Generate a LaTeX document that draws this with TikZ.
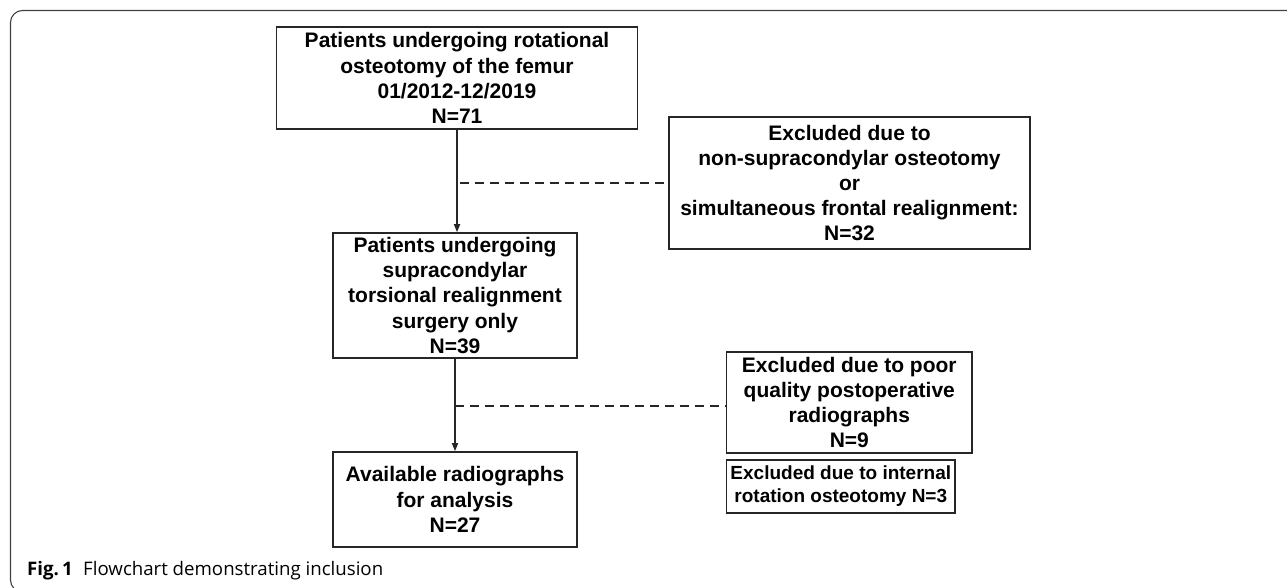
\documentclass[tikz,border=0pt]{standalone}
\usepackage{fontspec}
\usetikzlibrary{arrows.meta}
\newfontfamily\boxfont{Liberation Sans}
\newfontfamily\capfont{Open Sans}
\begin{document}
\begin{tikzpicture}[x=1pt,y=-1pt,
  fbox/.style={draw=black!85, line width=1.6pt, align=center, inner sep=0pt,
    font=\boxfont\bfseries\fontsize{21}{25.2}\selectfont, anchor=center},
  sbox/.style={fbox, font=\boxfont\bfseries\fontsize{19}{23}\selectfont},
  flow/.style={draw=black!85, line width=1.6pt, -{Triangle[length=8pt,width=6pt]}},
  excl/.style={draw=black!85, line width=1.6pt, dash pattern=on 9pt off 6pt}]
\useasboundingbox (0,0) rectangle (1287,588);
% outer frame
\draw[black!75, line width=1.1pt, rounded corners=12pt] (1300,10.5) -- (10.5,10.5) -- (10.5,592) -- (30,592);
% boxes
\node[fbox, minimum width=361, minimum height=102] (b1) at (457,78)
  {Patients undergoing rotational\\osteotomy of the femur\\01/2012-12/2019\\N=71};
\node[fbox, minimum width=361, minimum height=132] (b3) at (849.5,183)
  {Excluded due to\\non-supracondylar osteotomy\\or\\simultaneous frontal realignment:\\N=32};
\node[fbox, minimum width=244.5, minimum height=125] (b2) at (455,295.5)
  {Patients undergoing\\supracondylar\\torsional realignment\\surgery only\\N=39};
\node[fbox, minimum width=244.5, minimum height=95] (b4) at (455,499.5)
  {Available radiographs\\for analysis\\N=27};
\node[fbox, minimum width=245.3, minimum height=101] (b5) at (849.3,402.5)
  {Excluded due to poor\\quality postoperative\\radiographs\\N=9};
\node[sbox, minimum width=228.3, minimum height=53] (b6) at (840.8,486.5)
  {Excluded due to internal\\rotation osteotomy N=3};
% connectors
\draw[flow] (b1.south) -- (b1.south |- b2.north);
\draw[flow] (b2.south) -- (b2.south |- b4.north);
\coordinate (j1) at (b1.south |- b3.west);
\coordinate (j2) at ([yshift=-3.5pt]b2.south |- b5.west);
\draw[excl, shorten <=3pt] (j1) -- (b3.west);
\draw[excl] (j2) -- (j2 -| b5.west);
% caption
\node[anchor=base west, inner sep=0pt] (cap) at (27,575)
  {\resizebox{356pt}{!}{\capfont\fontsize{16}{19}\selectfont\textbf{Fig.\,1}\hspace{9pt}Flowchart demonstrating inclusion}};
\end{tikzpicture}
\end{document}
